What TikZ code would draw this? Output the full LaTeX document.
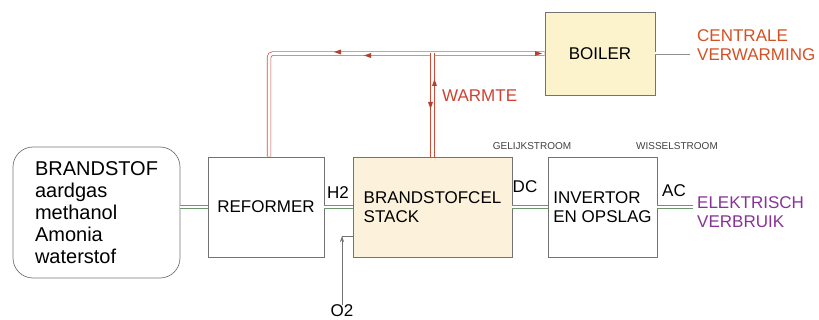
\documentclass[tikz,border=0pt]{standalone}
\usepackage{fontspec}
\setmainfont{Liberation Sans}
\usetikzlibrary{arrows.meta}
\definecolor{boxgray}{RGB}{115,115,115}
\definecolor{feedgreen}{RGB}{110,150,110}
\definecolor{pipered}{RGB}{210,75,55}
\definecolor{stackfill}{RGB}{252,241,218}
\definecolor{boilerfill}{RGB}{252,243,204}
\definecolor{heatred}{RGB}{205,65,50}
\definecolor{cvorange}{RGB}{212,80,35}
\definecolor{evpurple}{RGB}{135,50,150}
\begin{document}
\begin{tikzpicture}[x=1pt,y=-1pt,
  unit/.style={draw=boxgray,line width=0.7pt,rectangle,align=left,inner sep=0pt,font=\fontsize{17}{19.5}\selectfont},
  feed/.style={draw=feedgreen,double=white,double distance=2pt,line width=0.6pt},
  pipe/.style={draw=pipered,double=white,double distance=3pt,line width=0.7pt,rounded corners=4pt},
  tipmark/.style={fill=pipered!85!black},
  lbl/.style={inner sep=0pt,font=\fontsize{17}{19.5}\selectfont},
  small/.style={inner sep=0pt,text=black!75,font=\fontsize{10}{12}\selectfont}]
\useasboundingbox (0,0) rectangle (819,320);
% units
\node[unit,rounded corners=20pt,minimum width=167pt,minimum height=131pt,font=\fontsize{20}{22}\selectfont] (fuel) at (96.5,212.5) {BRANDSTOF\\aardgas\\methanol\\Amonia\\waterstof};
\node[unit,minimum width=116pt,minimum height=100pt] (reformer) at (266,207) {REFORMER};
\node[unit,fill=stackfill,minimum width=159pt,minimum height=100pt] (stack) at (432.5,207) {BRANDSTOFCEL\\STACK};
\node[unit,minimum width=109pt,minimum height=100pt] (invertor) at (602.5,207) {INVERTOR\\EN OPSLAG};
\node[unit,fill=boilerfill,minimum width=110pt,minimum height=83pt] (boiler) at (600,53.5) {BOILER};
% labels
\node[lbl] (h2) at (338,193) {H2};
\node[lbl] (dc) at (525,187) {DC};
\node[lbl] (ac) at (674,191) {AC};
\node[small] (gelijk) at (532,146) {GELIJKSTROOM};
\node[small] (wissel) at (677,146) {WISSELSTROOM};
\node[lbl,text=heatred,anchor=west] (warmte) at (442,96) {WARMTE};
\node[lbl,text=cvorange,align=left,anchor=west] (cv) at (697,45) {CENTRALE\\VERWARMING};
\node[lbl,text=evpurple,align=left,anchor=west] (ev) at (697,212) {ELEKTRISCH\\VERBRUIK};
\node[lbl] (o2) at (342,311) {O2};
\coordinate (acend) at (693,207);
\coordinate (cvend) at (690,53.5);
\coordinate (o2in) at (342,236);
% feeds
\draw[feed] (fuel.east |- reformer.west) -- (reformer.west);
\draw[feed] (reformer.east) -- (stack.west);
\draw[feed] (stack.east) -- (invertor.west);
\draw[feed] (invertor.east) -- (acend);
\draw[draw=boxgray!80,double=white,double distance=2pt,line width=0.6pt] (boiler.east) -- (cvend);
\draw[boxgray,line width=0.6pt,-{Stealth[length=6pt,width=4pt]}] (o2.north) -- (o2in);
\draw[boxgray,line width=0.6pt] (o2in) -- (o2in -| stack.west);
% heat pipes
\draw[pipe] ([xshift=3pt]reformer.north) |- (boiler.west);
\draw[pipe] (stack.north) -- (stack.north |- boiler.west);
\fill[tipmark,shift={(338,52)},rotate=180] (4,0) -- (-3,2.5) -- (-3,-2.5) -- cycle;
\fill[tipmark,shift={(368,55.5)},rotate=180] (4,0) -- (-3,2.5) -- (-3,-2.5) -- cycle;
\fill[tipmark,shift={(538,53.5)}] (4,0) -- (-3,2.5) -- (-3,-2.5) -- cycle;
\fill[tipmark,shift={(434.5,83)},rotate=90] (4,0) -- (-3,2.5) -- (-3,-2.5) -- cycle;
\fill[tipmark,shift={(430.5,105)},rotate=-90] (4,0) -- (-3,2.5) -- (-3,-2.5) -- cycle;
\end{tikzpicture}
\end{document}
